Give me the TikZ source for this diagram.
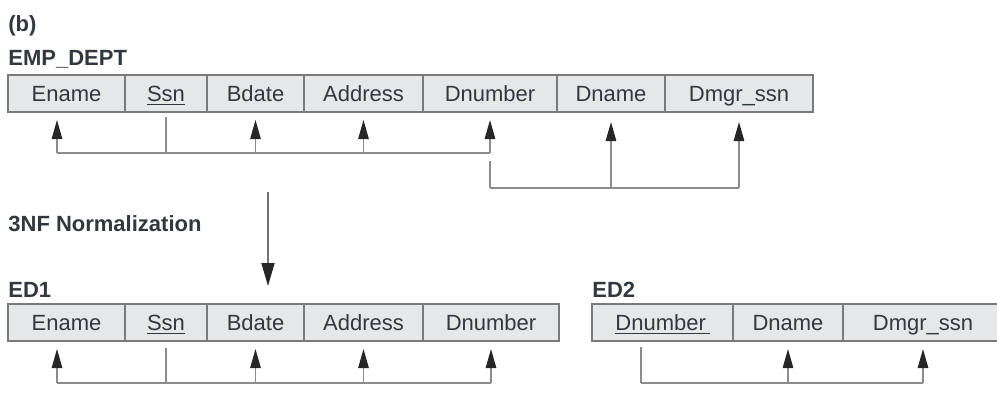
\documentclass[tikz,border=0pt]{standalone}
\usepackage{fontspec}
\setmainfont{Liberation Sans}
\usetikzlibrary{positioning,arrows.meta}
\definecolor{cellfill}{HTML}{E6E7E9}
\definecolor{cellline}{HTML}{7A7A7A}
\definecolor{txt}{HTML}{33383E}
\definecolor{fdgray}{HTML}{8C8C8C}
\tikzset{
  attr/.style={draw=cellline, fill=cellfill, line width=0.8pt, outer sep=0pt, inner sep=0pt,
    minimum height=18.5pt, text height=7.9pt, text depth=0pt, text=txt,
    font=\fontsize{11}{13}\selectfont},
  relname/.style={anchor=base west, inner sep=0pt, text=txt, font=\fontsize{11}{13}\selectfont\bfseries},
  fdline/.style={draw=fdgray, line width=0.75pt},
  fd/.style={fdline, -{Triangle[width=5.2pt, length=9.5pt, color=black!85]}},
  normarrow/.style={draw=black!55, line width=0.8pt, -{Triangle[width=6.5pt, length=11.5pt, color=black!85]}}
}

\begin{document}
\begin{tikzpicture}
  \useasboundingbox (0,0) rectangle (498.5pt,196pt);

  % EMP_DEPT
  \node[attr, minimum width=58.5pt, anchor=west] (ename) at (4pt,149.25pt) {Ename};
  \node[attr, minimum width=41pt, right=0pt of ename] (ssn) {\underline{Ssn}};
  \node[attr, minimum width=48.5pt, right=0pt of ssn] (bdate) {Bdate};
  \node[attr, minimum width=59.5pt, right=0pt of bdate] (addr) {Address};
  \node[attr, minimum width=67pt, right=0pt of addr] (dnum) {Dnumber};
  \node[attr, minimum width=54pt, right=0pt of dnum] (dname) {Dname};
  \node[attr, minimum width=74pt, right=0pt of dname] (dmgr) {Dmgr\_ssn};
  \node[above=4.7pt of ename.north west, relname] (empdept) {EMP\_DEPT};
  \node[above=17pt of empdept.base west, relname] (part) {(b)};

  % Ssn determines the rest
  \draw[fdline] ([yshift=-2.3pt]ssn.south) -- ([yshift=-20.5pt]ssn.south) coordinate (bus1);
  \coordinate (etip) at ([xshift=-4.75pt, yshift=-4pt]ename.south);
  \draw[fdline] (bus1 -| etip) -- (bus1 -| dnum);
  \draw[fd] (bus1 -| etip) -- (etip);
  \foreach \a in {bdate,addr,dnum}
    \draw[fd] (bus1 -| \a) -- ([yshift=-4pt]\a.south);

  % Dnumber determines Dname, Dmgr_ssn
  \draw[fdline] ([yshift=-24.5pt]dnum.south) -- ([yshift=-38pt]dnum.south) coordinate (bus2);
  \draw[fdline] (bus2) -- (bus2 -| dmgr);
  \foreach \a in {dname,dmgr}
    \draw[fd] (bus2 -| \a) -- ([yshift=-5pt]\a.south);

  % ED1
  \node[attr, minimum width=58.5pt, below=96pt of ename] (ename1) {Ename};
  \node[attr, minimum width=41pt, right=0pt of ename1] (ssn1) {\underline{Ssn}};
  \node[attr, minimum width=48.5pt, right=0pt of ssn1] (bdate1) {Bdate};
  \node[attr, minimum width=59.5pt, right=0pt of bdate1] (addr1) {Address};
  \node[attr, minimum width=68pt, right=0pt of addr1] (dnum1) {Dnumber};
  \node[above=3.5pt of ename1.north west, relname] (ed1) {ED1};
  \node[above=33pt of ed1.base west, relname] (nf) {3NF Normalization};

  \draw[normarrow] ([xshift=6.25pt, yshift=-40pt]bdate.south) -- ([xshift=6.25pt, yshift=9pt]bdate1.north);

  \draw[fdline] ([yshift=-3.5pt]ssn1.south) -- ([yshift=-21pt]ssn1.south) coordinate (bus3);
  \coordinate (etip1) at ([xshift=-4.75pt, yshift=-4pt]ename1.south);
  \draw[fdline] (bus3 -| etip1) -- (bus3 -| dnum1);
  \draw[fd] (bus3 -| etip1) -- (etip1);
  \foreach \a in {bdate1,addr1,dnum1}
    \draw[fd] (bus3 -| \a) -- ([yshift=-4pt]\a.south);

  % ED2
  \node[attr, minimum width=70.5pt, right=16.5pt of dnum1] (dnum2) {\underline{Dnumber\,}};
  \node[attr, minimum width=55pt, right=0pt of dnum2] (dname2) {Dname};
  \node[attr, minimum width=80pt, right=0pt of dname2] (dmgr2) {Dmgr\_ssn};
  \node[above=3.5pt of dnum2.north west, relname] (ed2) {ED2};

  \draw[fdline] ([xshift=-10.75pt, yshift=-3pt]dnum2.south) -- ([xshift=-10.75pt, yshift=-21pt]dnum2.south) coordinate (bus4);
  \draw[fdline] (bus4) -- (bus4 -| dmgr2);
  \foreach \a in {dname2,dmgr2}
    \draw[fd] (bus4 -| \a) -- ([yshift=-4pt]\a.south);
\end{tikzpicture}
\end{document}
